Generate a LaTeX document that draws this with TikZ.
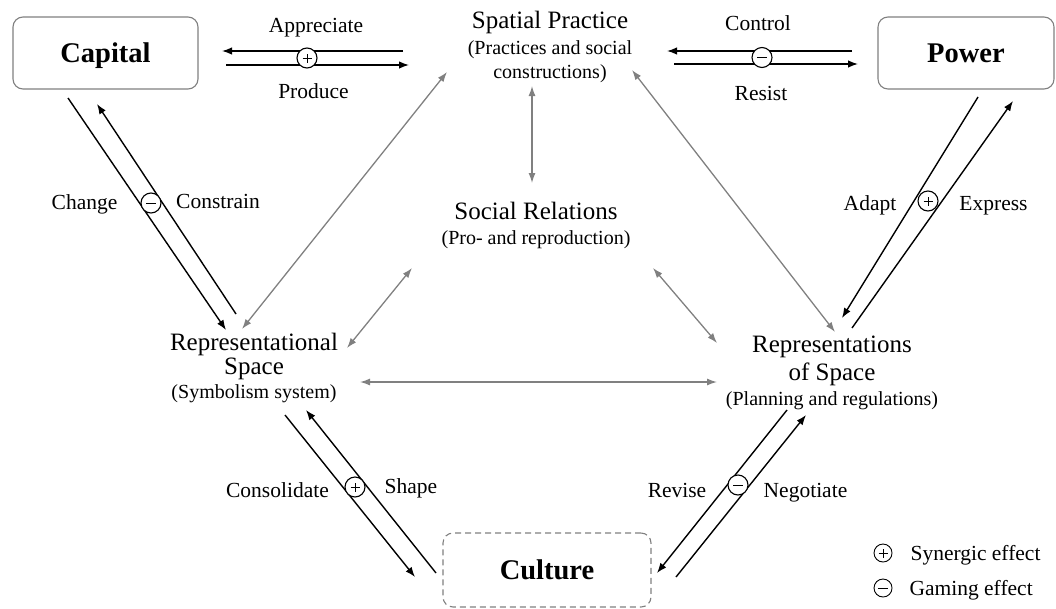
\documentclass[tikz,border=0pt]{standalone}
\usepackage{fontspec}
\setmainfont{Liberation Serif}
\usetikzlibrary{arrows.meta}
\definecolor{linkgray}{HTML}{808080}
\begin{document}
\begin{tikzpicture}[x=1pt,y=-1pt,
  box/.style={draw=linkgray, line width=1.1pt, rounded corners=10pt, inner sep=0pt,
    font=\fontsize{28.5}{30}\selectfont\bfseries, text height=19.5pt, text depth=0pt},
  title/.style={font=\fontsize{25}{26}\selectfont, anchor=base},
  sub/.style={font=\fontsize{20}{21}\selectfont, anchor=base},
  lbl/.style={font=\fontsize{21.5}{22}\selectfont, anchor=base},
  flow/.style={draw=black, line width=1.4pt, -{Latex[length=10pt,width=7.5pt]}},
  link/.style={draw=linkgray, line width=1.3pt,
    {Latex[length=10pt,width=7pt]}-{Latex[length=10pt,width=7pt]}},
  sign/.style={circle, draw=black, fill=white, line width=1.1pt, minimum size=20pt, inner sep=0pt},
  plus/.style={sign, path picture={\draw[line width=0.9pt] (-4.5pt,0)--(4.5pt,0) (0,-4.5pt)--(0,4.5pt);}},
  minus/.style={sign, path picture={\draw[line width=0.9pt] (-5pt,0)--(5pt,0);}},
]
\useasboundingbox (0,0) rectangle (1056,608);

% actor boxes
\node[box, minimum width=185pt, minimum height=72pt] (capital) at (105.5,53) {Capital};
\node[box, minimum width=176pt, minimum height=72pt] (power) at (966,53) {Power};
\node[box, dash pattern=on 6pt off 4pt, minimum width=208pt, minimum height=74pt] (culture) at (547,570) {Culture};

% the spatial triad
\node[title] (sp1) at (550,28) {Spatial Practice};
\node[sub]   (sp2) at (550,54) {(Practices and social};
\node[sub]   (sp3) at (550,78) {constructions)};

\node[title] (sr1) at (536,219) {Social Relations};
\node[sub]   (sr2) at (536,244) {(Pro- and reproduction)};

\node[title] (rs1) at (254,350) {Representational};
\node[title] (rs2) at (254,374) {Space};
\node[sub]   (rs3) at (254,398) {(Symbolism system)};

\node[title] (ros1) at (832,352) {Representations};
\node[title] (ros2) at (832,380) {of Space};
\node[sub]   (ros3) at (832,405) {(Planning and regulations)};

% connector end points
\coordinate (cs-a) at (403,51);  \coordinate (cs-b) at (222,51);
\coordinate (sc-a) at (226,65);  \coordinate (sc-b) at (409,65);
\coordinate (pw-a) at (852,51);  \coordinate (pw-b) at (667,51);
\coordinate (wp-a) at (674,64);  \coordinate (wp-b) at (858,64);
\coordinate (cr-a) at (68,98);   \coordinate (cr-b) at (226,330);
\coordinate (rc-a) at (236,314); \coordinate (rc-b) at (97,104);
\coordinate (pr-a) at (978,97);  \coordinate (pr-b) at (842,318);
\coordinate (rp-a) at (852,328); \coordinate (rp-b) at (1013,101);
\coordinate (ru-a) at (285,415); \coordinate (ru-b) at (415,577);
\coordinate (ur-a) at (436,573); \coordinate (ur-b) at (306,410);
\coordinate (ou-a) at (787,410); \coordinate (ou-b) at (657,573);
\coordinate (uo-a) at (676,577); \coordinate (uo-b) at (806,415);

\coordinate (g1-a) at (242,329); \coordinate (g1-b) at (447,72);
\coordinate (g2-a) at (532,86);  \coordinate (g2-b) at (532,183);
\coordinate (g3-a) at (632,70);  \coordinate (g3-b) at (835,332);
\coordinate (g4-a) at (347,348); \coordinate (g4-b) at (412,268);
\coordinate (g5-a) at (653,268); \coordinate (g5-b) at (717,343);
\coordinate (g6-a) at (360,382); \coordinate (g6-b) at (717,382);

% triad relations
\draw[link] (g1-a) -- (g1-b);
\draw[link] (g2-a) -- (g2-b);
\draw[link] (g3-a) -- (g3-b);
\draw[link] (g4-a) -- (g4-b);
\draw[link] (g5-a) -- (g5-b);
\draw[link] (g6-a) -- (g6-b);

% flows between actors and the triad
\draw[flow] (cs-a) -- (cs-b);  \draw[flow] (sc-a) -- (sc-b);
\draw[flow] (pw-a) -- (pw-b);  \draw[flow] (wp-a) -- (wp-b);
\draw[flow] (cr-a) -- (cr-b);  \draw[flow] (rc-a) -- (rc-b);
\draw[flow] (pr-a) -- (pr-b);  \draw[flow] (rp-a) -- (rp-b);
\draw[flow] (ru-a) -- (ru-b);  \draw[flow] (ur-a) -- (ur-b);
\draw[flow] (ou-a) -- (ou-b);  \draw[flow] (uo-a) -- (uo-b);

% effect markers
\node[plus]  (e1) at (307,58) {};
\node[minus] (e2) at (762,57.5) {};
\node[minus] (e3) at (151,203) {};
\node[plus]  (e4) at (928,201) {};
\node[plus]  (e5) at (355,487) {};
\node[minus] (e6) at (738,485) {};

% flow labels
\node[lbl] (l1) at (316,32) {Appreciate};
\node[lbl] (l2) at (313.5,98) {Produce};
\node[lbl] (l3) at (758,30) {Control};
\node[lbl] (l4) at (761,100) {Resist};
\node[lbl] (l5) at (84.5,209) {Change};
\node[lbl] (l6) at (218,208) {Constrain};
\node[lbl] (l7) at (870,210) {Adapt};
\node[lbl] (l8) at (993.5,210) {Express};
\node[lbl] (l9) at (277.5,497) {Consolidate};
\node[lbl] (l10) at (411,493) {Shape};
\node[lbl] (l11) at (677,497) {Revise};
\node[lbl] (l12) at (805.5,497) {Negotiate};

% legend
\node[plus, minimum size=18pt, line width=0.9pt] (k1) at (883,553) {};
\node[minus, minimum size=18pt, line width=0.9pt] (k2) at (883,588) {};
\node[lbl, anchor=base west] (k1t) at (907,560) {Synergic effect};
\node[lbl, anchor=base west] (k2t) at (906,595) {Gaming effect};
\end{tikzpicture}
\end{document}
